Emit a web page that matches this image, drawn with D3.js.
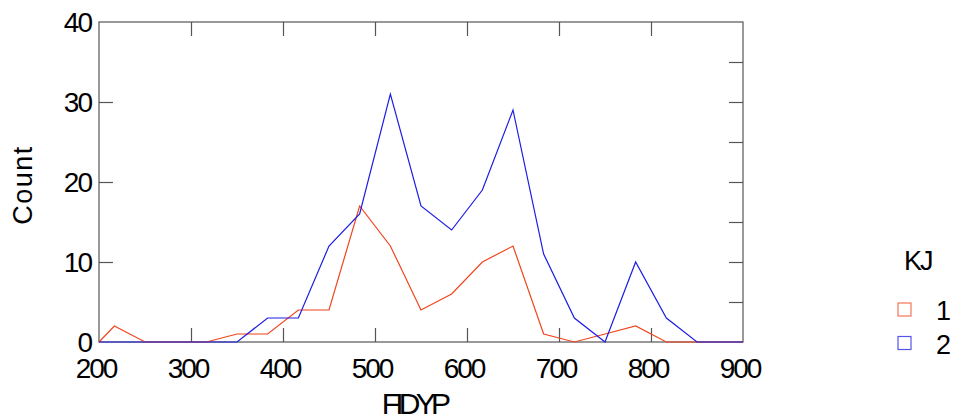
<!DOCTYPE html>
<html>
<head>
<meta charset="utf-8">
<script src="https://cdnjs.cloudflare.com/ajax/libs/d3/7.8.5/d3.min.js"></script>
<style>
  body { margin: 0; background: #fff; }
  text { font-family: "Liberation Sans", Arial, sans-serif; fill: #000; }
</style>
</head>
<body>
<svg id="chart"></svg>
<script>
// frequency polygon points (bin midpoints, width 33.3)
let binX = [200, 216.7, 250, 283.3, 316.7, 350, 383.3, 416.7, 450, 483.3, 516.7, 550,
  583.3, 616.7, 650, 683.3, 716.7, 750, 783.3, 816.7, 850, 883.3, 900];
let countKJ1 = [0, 2, 0, 0, 0, 1, 1, 4, 4, 17, 12, 4, 6, 10, 12, 1, 0, 1, 2, 0, 0, 0, 0];
let countKJ2 = [0, 0, 0, 0, 0, 0, 3, 3, 12, 16, 31, 17, 14, 19, 29, 11, 3, 0, 10, 3, 0, 0, 0];
let xTicks = [200, 300, 400, 500, 600, 700, 800, 900];
let yTicks = [0, 10, 20, 30, 40];
let legendLabels = ["1", "2"];
let colors = ["#f0451c", "#1c1ce6"];

let width = 955;
let height = 419;
let plotLeft = 99, plotRight = 743, plotTop = 22, plotBottom = 342;

let svg = d3.select("#chart").attr("width", width).attr("height", height);

let xScale = d3.scaleLinear().domain([200, 900]).range([plotLeft, plotRight]);
let yScale = d3.scaleLinear().domain([0, 40]).range([plotBottom, plotTop]);

let frameColor = "#555";

// frame
svg.append("rect")
  .attr("x", plotLeft).attr("y", plotTop)
  .attr("width", plotRight - plotLeft).attr("height", plotBottom - plotTop)
  .attr("fill", "none").attr("stroke", frameColor).attr("stroke-width", 1.2);

// inner ticks on all sides
let tickLen = 14;
let innerX = xTicks.slice(1, -1);
svg.append("g")
  .attr("transform", "translate(0," + plotBottom + ")")
  .call(d3.axisTop(xScale).tickValues(innerX).tickSize(tickLen).tickFormat(""))
  .call(g => g.select(".domain").remove())
  .selectAll("line").attr("stroke", frameColor).attr("stroke-width", 1.2);
svg.append("g")
  .attr("transform", "translate(0," + plotTop + ")")
  .call(d3.axisBottom(xScale).tickValues(innerX).tickSize(tickLen).tickFormat(""))
  .call(g => g.select(".domain").remove())
  .selectAll("line").attr("stroke", frameColor).attr("stroke-width", 1.2);
svg.append("g")
  .attr("transform", "translate(" + plotLeft + ",0)")
  .call(d3.axisRight(yScale).tickValues(yTicks.slice(1, -1)).tickSize(tickLen).tickFormat(""))
  .call(g => g.select(".domain").remove())
  .selectAll("line").attr("stroke", frameColor).attr("stroke-width", 1.2);
svg.append("g")
  .attr("transform", "translate(" + plotRight + ",0)")
  .call(d3.axisLeft(yScale).tickValues(d3.range(5, 40, 5)).tickSize(tickLen).tickFormat(""))
  .call(g => g.select(".domain").remove())
  .selectAll("line").attr("stroke", frameColor).attr("stroke-width", 1.2);

// tick labels
svg.append("g").selectAll("text")
  .data(xTicks).join("text")
  .attr("x", d => xScale(d) - 3)
  .attr("y", 378)
  .attr("text-anchor", "middle")
  .style("font-size", "28px")
  .style("letter-spacing", "-2px")
  .text(d => d);

svg.append("g").selectAll("text")
  .data(yTicks).join("text")
  .attr("x", plotLeft - 8)
  .attr("y", d => yScale(d) + 10)
  .attr("text-anchor", "end")
  .style("font-size", "28px")
  .style("letter-spacing", "-2px")
  .text(d => d);

// axis titles
svg.append("text")
  .attr("x", 414).attr("y", 414)
  .attr("text-anchor", "middle")
  .style("font-size", "30px")
  .style("letter-spacing", "-4.8px")
  .text("FIDYP");

svg.append("text")
  .attr("transform", "translate(32,185) rotate(-90)")
  .attr("text-anchor", "middle")
  .style("font-size", "27px")
  .style("letter-spacing", "1.5px")
  .text("Count");

// lines
let line = d3.line()
  .x((d, i) => xScale(binX[i]))
  .y(d => yScale(d));

[countKJ1, countKJ2].forEach((series, k) => {
  svg.append("path")
    .datum(series)
    .attr("fill", "none")
    .attr("stroke", colors[k])
    .attr("stroke-width", 1.2)
    .attr("d", line);
});

// legend
svg.append("text")
  .attr("x", 904).attr("y", 270)
  .style("font-size", "27px")
  .style("letter-spacing", "-2px")
  .text("KJ");

let legend = svg.append("g").selectAll("g")
  .data(legendLabels).join("g")
  .attr("transform", (d, i) => "translate(898," + (303 + i * 33.5) + ")");
legend.append("rect")
  .attr("width", 13).attr("height", 13)
  .attr("fill", "none")
  .attr("stroke", (d, i) => colors[i])
  .attr("stroke-opacity", 0.75)
  .attr("stroke-width", 1.2);
legend.append("text")
  .attr("x", 38).attr("y", 17)
  .style("font-size", "27px")
  .text(d => d);
</script>
</body>
</html>
